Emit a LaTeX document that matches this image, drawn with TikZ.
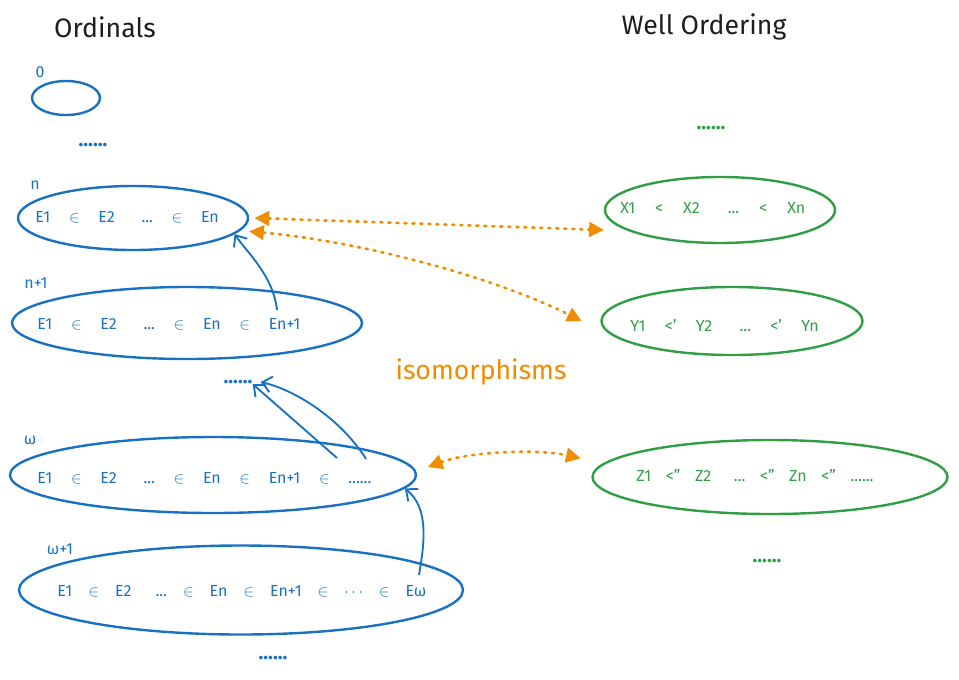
\documentclass[tikz,border=0pt]{standalone}
\usepackage{fontspec}
\setmainfont{Fira Sans}
\usepackage{tikz}
\usetikzlibrary{shapes.geometric,arrows.meta,positioning}

\definecolor{ordblue}{HTML}{1971C2}
\definecolor{wogreen}{HTML}{2F9E44}
\definecolor{isoorange}{HTML}{F08C00}
\definecolor{inkblack}{HTML}{1E1E1E}

\newlength{\tokskip}
\setlength{\tokskip}{14pt}
\newcommand{\tokgap}{\hspace{\tokskip}}
\newcommand{\widegap}{\hspace{\dimexpr\tokskip+6pt\relax}}

\tikzset{
  heading/.style={text=inkblack, font=\fontsize{20}{24}\selectfont},
  setsize/.style 2 args={minimum width=#1*0.75pt, minimum height=#2*0.75pt},
  tokenspace/.style={execute at begin node={\setlength{\tokskip}{#1}}},
  ordset/.style={ellipse, draw=ordblue, line width=1.8pt, inner sep=0pt},
  woset/.style={ellipse, draw=wogreen, line width=1.8pt, inner sep=0pt},
  ordtext/.style={text=ordblue, font=\fontsize{12}{14}\selectfont, inner sep=0pt, anchor=west},
  wotext/.style={text=wogreen, font=\fontsize{12}{14}\selectfont, inner sep=0pt, anchor=west},
  setlabel/.style={text=ordblue, font=\fontsize{12}{14}\selectfont, inner sep=0pt},
  dotrow/.style={font=\fontsize{15}{17}\selectfont\bfseries, inner sep=0pt},
  iso/.style={color=isoorange, line width=2pt, dash pattern=on 1.5pt off 4.5pt, line cap=round,
    {Triangle[length=11pt,width=11pt]}-{Triangle[length=11pt,width=11pt]}},
  member/.style={draw=ordblue, line width=1.4pt, -{Straight Barb[length=7pt,width=12pt]}}
}

\begin{document}
\begin{tikzpicture}[x=0.75pt,y=-0.75pt]
  \useasboundingbox (0,0) rectangle (959,679);

  % titles
  \node[heading] (ordtitle) at (105,27) {Ordinals};
  \node[heading] (wotitle) at (704,27) {Well Ordering};

  % ordinals
  \node[setlabel] (lab0) at (40,72) {0};
  \node[ordset, setsize={68}{34}] (ord0) at (66,98) {};
  \node[dotrow, text=ordblue] (dots0) at (93,145) {......};

  \node[setlabel] (labn) at (35,185) {n};
  \node[ordset, setsize={230}{64}] (ordn) at (133,218) {};
  \node[ordtext] (txtn) at (35,217) {E1\tokgap$\in$\tokgap E2\widegap...\tokgap$\in$\tokgap En};

  \node[setlabel] (labn1) at (36,283) {n+1};
  \node[ordset, setsize={350}{72}] (ordn1) at (187,323) {};
  \node[ordtext] (txtn1) at (37,324) {E1\tokgap$\in$\tokgap E2\widegap...\tokgap$\in$\tokgap En\tokgap$\in$\tokgap En+1};

  \node[dotrow, text=ordblue] (dotsw) at (238,382) {......};

  \node[setlabel] (labw) at (30,440) {ω};
  \node[ordset, setsize={406}{76}] (ordw) at (213,475) {};
  \node[ordtext] (txtw) at (37,478) {E1\tokgap$\in$\tokgap E2\widegap...\tokgap$\in$\tokgap En\tokgap$\in$\tokgap En+1\tokgap$\in$\tokgap......};

  \node[setlabel] (labw1) at (60,549) {ω+1};
  \node[ordset, setsize={444}{89}] (ordw1) at (241,590) {};
  \node[ordtext, tokenspace=12pt] (txtw1) at (57,591) {E1\tokgap$\in$\tokgap E2\widegap...\tokgap$\in$\tokgap En\tokgap$\in$\tokgap En+1\tokgap$\in$\tokgap$\cdots$\tokgap$\in$\tokgap Eω};

  \node[dotrow, text=ordblue] (dotsend) at (273,658) {......};

  % well orderings
  \node[dotrow, text=wogreen] (wodots1) at (711,128) {......};
  \node[woset, setsize={230}{66}] (wox) at (720,210) {};
  \node[wotext, tokenspace=15pt] (txtx) at (620,208) {X1\tokgap<\tokgap X2\widegap...\tokgap<\tokgap Xn};
  \node[woset, setsize={261}{68}] (woy) at (732,321) {};
  \node[wotext, tokenspace=14.5pt] (txty) at (630,326) {Y1\tokgap<'\tokgap Y2\widegap...\tokgap<'\tokgap Yn};
  \node[woset, setsize={355}{74}] (woz) at (770,477) {};
  \node[wotext, tokenspace=11pt] (txtz) at (636,476) {Z1\tokgap<"\tokgap Z2\widegap...\tokgap<"\tokgap Zn\tokgap<"\tokgap......};
  \node[dotrow, text=wogreen] (wodots2) at (767,561) {......};

  \node[text=isoorange, font=\fontsize{20}{24}\selectfont] (isolab) at (481,372) {isomorphisms};

  % membership arrows
  \coordinate (n1tail) at (277,310);
  \coordinate (wtaila) at (337,458);
  \coordinate (wtailb) at (366,459);
  \coordinate (w1tail) at (419,575);
  \draw[member] (n1tail) .. controls +(-4,-35) and +(12,18) .. (ordn.-9);
  \draw[member] (wtaila) -- (dotsw.south east);
  \draw[member] (wtailb) .. controls +(-25,-40) and +(35,8) .. ([xshift=6pt]dotsw.east);
  \draw[member] (w1tail) .. controls +(5,-30) and +(25,20) .. (ordw.-4);

  % isomorphisms
  \draw[iso] ([xshift=4pt]ordn.east) -- ([yshift=-15pt]wox.west);
  \draw[iso] ([yshift=-10pt]ordn.east) .. controls +(110,10) and +(-90,-45) .. ([xshift=-14pt]woy.west);
  \draw[iso] ([xshift=8pt,yshift=6pt]ordw.east) .. controls +(40,-15) and +(-45,-10) .. ([xshift=-8pt,yshift=14pt]woz.west);
\end{tikzpicture}
\end{document}
